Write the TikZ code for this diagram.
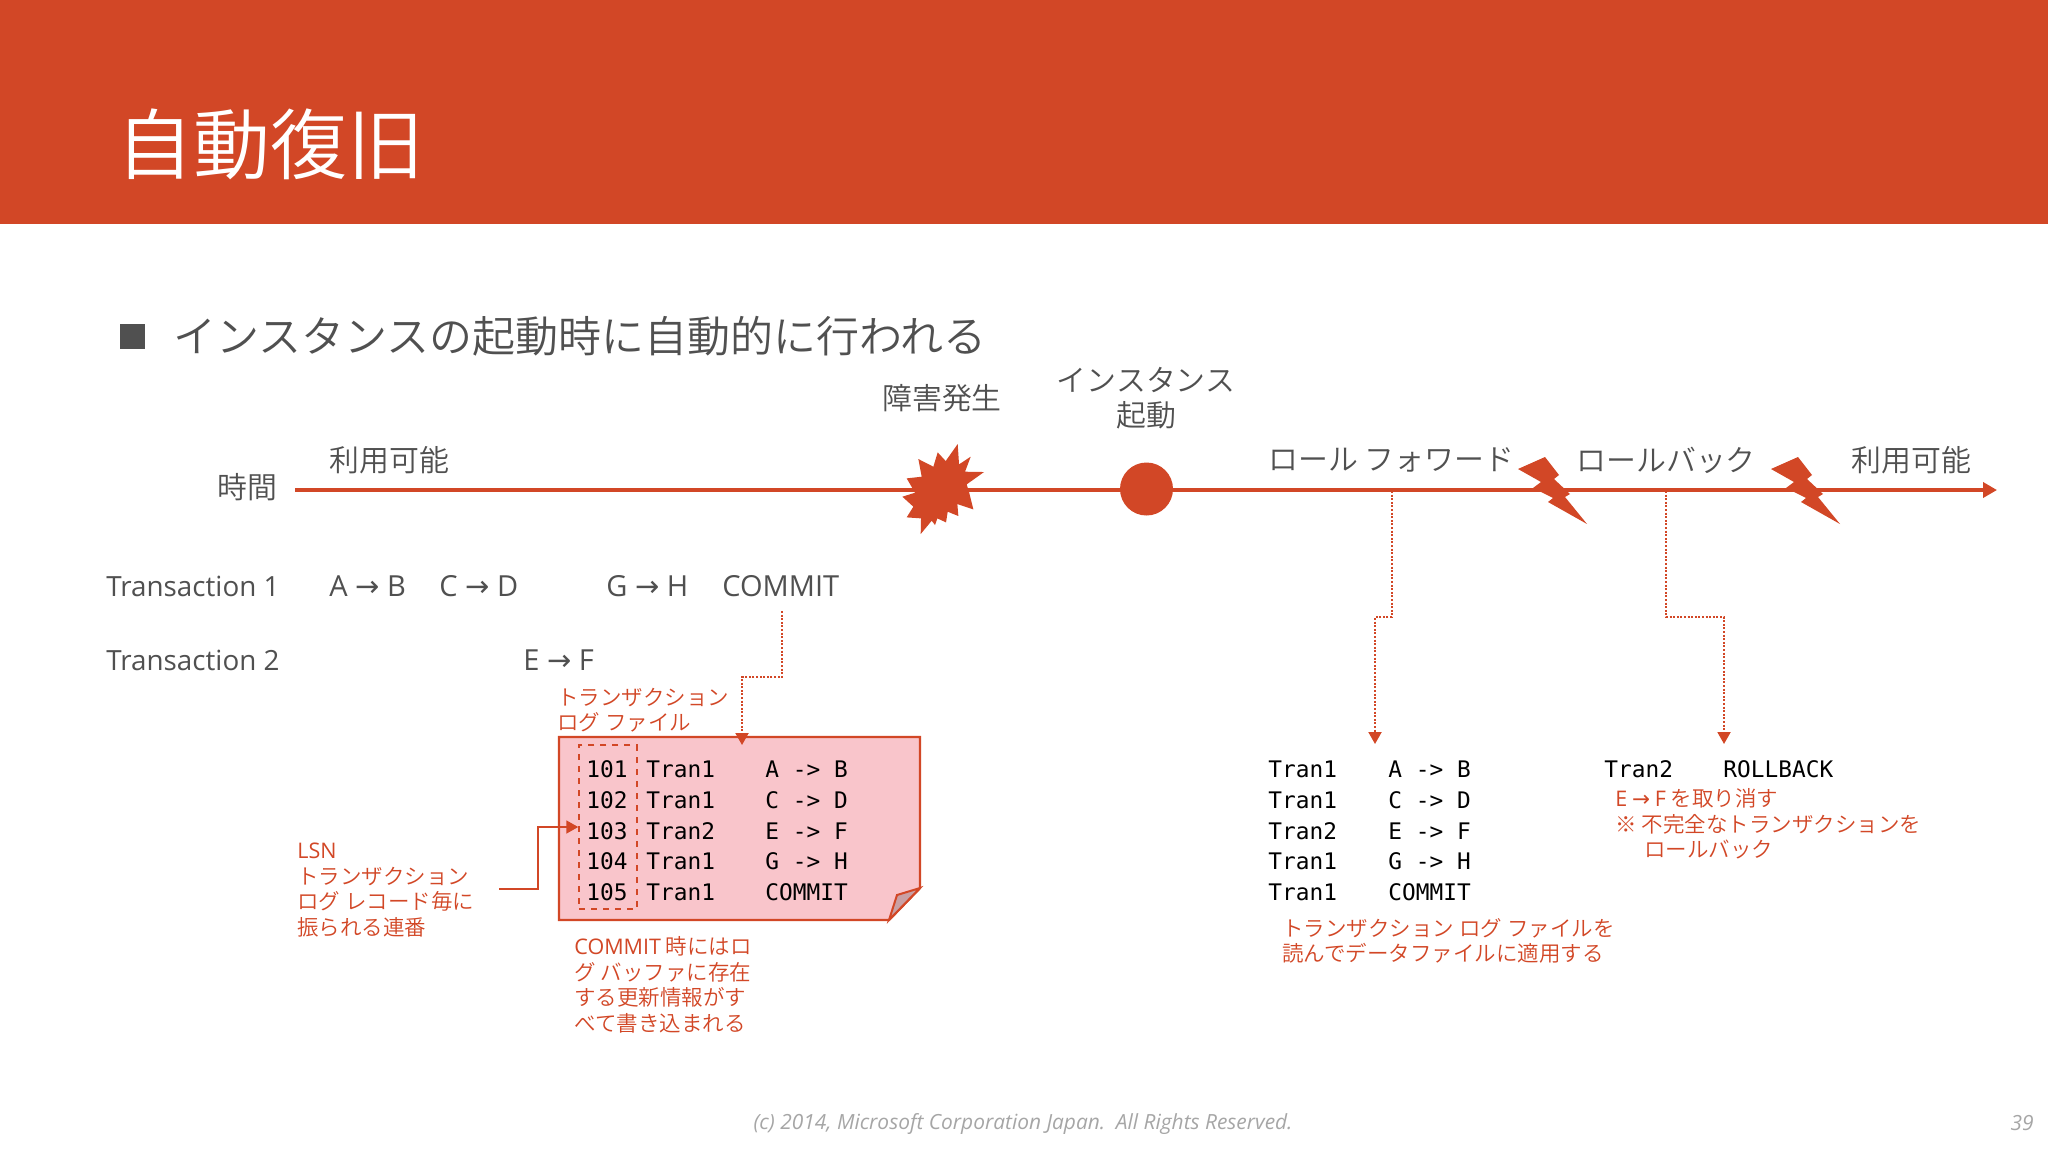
\documentclass[tikz,border=0pt]{standalone}
\usepackage{fontspec}
\usetikzlibrary{arrows.meta}
\setmainfont{Open Sans}
\newfontfamily\jp{Noto Sans CJK JP DemiLight}
\newfontfamily\os{Open Sans}
\newfontfamily\dv{DejaVu Sans}
\newfontfamily\mono{DejaVu Sans Mono}
\definecolor{accent}{HTML}{D24726}
\definecolor{ink}{HTML}{505050}
\definecolor{logfill}{HTML}{F9C5CB}
\definecolor{foldfill}{HTML}{C9A0A4}
\definecolor{foot}{HTML}{A6A6A6}
\newcommand{\arr}{{\dv →}}
\tikzset{
  lab/.style={inner sep=0pt,text=ink,font=\jp\fontsize{14.95}{17}\selectfont},
  latin/.style={inner sep=0pt,text=ink,anchor=west,font=\os\fontsize{14.5}{17}\selectfont},
  txn/.style={latin,font=\os\fontsize{13.9}{17}\selectfont},
  note/.style={inner sep=0pt,text=accent,anchor=west,align=left,font=\jp\fontsize{10.75}{12.8}\selectfont},
  code/.style={inner sep=0pt,text=black,anchor=west,font=\mono\fontsize{11.4}{13}\selectfont},
  dotline/.style={draw=accent,line width=1pt,dash pattern=on 1pt off 0.8pt,-{Triangle[length=6pt,width=6.5pt]}},
  solidline/.style={draw=accent,line width=0.9pt,-{Triangle[length=6pt,width=6.5pt]}},
  shapefill/.style={fill=accent,draw=none},
}
\begin{document}
\begin{tikzpicture}[x=0.5pt,y=-0.5pt]
\useasboundingbox (0,0) rectangle (2048,1152);
\fill[white] (0,0) rectangle (2048,1152);
\fill[accent] (0,0) rectangle (2048,224);
\node[inner sep=0pt,anchor=west,text=white,font=\jp\fontsize{38.5}{44}\selectfont] (title) at (116,144) {自動復旧};
\fill[ink] (120,324) rectangle (145,349);
\node[lab,anchor=west,font=\jp\fontsize{21.5}{25}\selectfont] (sub) at (173,336) {インスタンスの起動時に自動的に行われる};

% timeline
\coordinate (tstart) at (295,490);
\coordinate (tend) at (1997,490);
\draw[accent,line width=2.4pt,-{Triangle[length=7pt,width=7.5pt]}] (tstart) -- (tend);
\node[lab,anchor=east] (jikan) at (278,487) {時間};
\node[lab,anchor=west] (av1) at (329,460) {利用可能};
\node[lab] (fail) at (942,398) {障害発生};
\node[lab,align=center,font=\jp\fontsize{14.95}{17.8}\selectfont] (start) at (1146,398) {インスタンス\\起動};
\node[lab,anchor=west] (rf) at (1268,460) {ロール フォワード};
\node[lab,anchor=west] (rb) at (1576,460) {ロールバック};
\node[lab,anchor=west] (av2) at (1851,460) {利用可能};

% burst
\fill[shapefill,shift={(850,350)},x=0.1667pt,y=-0.1667pt]
 (205,327)--(250,350)--(263,307)--(287,333)--(323,282)--(327,343)--(362,320)--(345,365)--(402,366)--(350,403)--(358,430)--(370,478)--(322,462)--(325,498)--(293,485)--(288,517)--(262,505)--(255,525)--(245,512)--(212,552)--(213,505)--(170,502)--(190,470)--(157,440)--(195,428)--(170,385)--(215,380)--cycle;
\node[shapefill,circle,minimum size=26.5pt,inner sep=0pt] (dot) at (1146.5,489) {};
% bolts
\foreach \d in {0,253}{
\fill[shapefill,shift={(\d*0.5pt,0)}]
 (1518,469)--(1545,457)--(1559,475)--(1554,479)--(1570,494)--(1565,497)--(1587,524)--(1548,502)--(1553,498)--(1533,488)--(1541,482)--cycle;
}

% transactions
\node[txn] (t1) at (106,586) {Transaction 1};
\node[txn] (t2) at (106,660) {Transaction 2};
\node[latin] (ab) at (329,586) {A \arr{} B};
\node[latin] (cd) at (439,586) {C \arr{} D};
\node[latin] (gh) at (606,586) {G \arr{} H};
\node[latin] (cm) at (722,586) {COMMIT};
\node[latin] (ef) at (523,660) {E \arr{} F};

% log file
\filldraw[fill=logfill,draw=accent,line width=1.2pt] (559,737)--(920,737)--(920,888)--(889,920)--(559,920)--cycle;
\filldraw[fill=foldfill,draw=accent,line width=1pt] (889,920)--(897,895)--(920,888)--cycle;
\node[inner sep=0pt,draw=accent,dashed,line width=1pt,minimum width=28.75pt,minimum height=82pt] (lsnbox) at (608,827) {};
\coordinate (logtop) at (742,745);
\foreach \n/\yy/\t/\c in {101/769/Tran1/{A -> B},102/800/Tran1/{C -> D},103/831/Tran2/{E -> F},104/861/Tran1/{G -> H},105/892/Tran1/COMMIT}{
  \node[code] at (586,\yy) {\n};
  \node[code] at (646,\yy) {\t};
  \node[code] at (765,\yy) {\c};
  \node[code] at (1268,\yy) {\t};
  \node[code] at (1388,\yy) {\c};
}
\node[code] (rb1) at (1604,769) {Tran2};
\node[code] (rb2) at (1723,769) {ROLLBACK};

% notes
\node[note] (logt) at (557,710) {トランザクション\\ログ ファイル};
\node[note] (lsn) at (297,890) {{\os LSN}\\トランザクション\\ログ レコード毎に\\振られる連番};
\node[note] (cmn) at (574,985) {{\os COMMIT} 時にはロ\\グ バッファに存在\\する更新情報がす\\べて書き込まれる};
\node[note] (fwn) at (1282,941) {トランザクション ログ ファイルを\\読んでデータファイルに適用する};
\node[note] (rbn) at (1615,824) {{\os E} \arr{} {\os F} を取り消す\\※ 不完全なトランザクションを\\\hspace*{14.5pt}ロールバック};

% connectors
\coordinate (c1a) at (782,611);
\coordinate (c1b) at (782,677);
\coordinate (c1c) at (742,677);
\draw[dotline] (c1a)--(c1b)--(c1c)--(logtop);
\coordinate (lsnout) at (499,889);
\coordinate (lsnb) at (538,889);
\coordinate (lsnc) at (538,827);
\draw[solidline] (lsnout)--(lsnb)--(lsnc)--(lsnbox.west);
\coordinate (f0) at (1392,491);
\coordinate (f1) at (1392,617);
\coordinate (f2) at (1375,617);
\coordinate (f3) at (1375,744);
\draw[dotline] (f0)--(f1)--(f2)--(f3);
\coordinate (b0) at (1666,491);
\coordinate (b1) at (1666,617);
\coordinate (b2) at (1724,617);
\coordinate (b3) at (1724,744);
\draw[dotline] (b0)--(b1)--(b2)--(b3);

% footer
\node[inner sep=0pt,text=foot,font=\os\itshape\fontsize{10.45}{12}\selectfont] (foot) at (1023,1124) {(c) 2014, Microsoft Corporation Japan.\ \ All Rights Reserved.};
\node[inner sep=0pt,text=foot,font=\os\itshape\fontsize{10.45}{12}\selectfont,anchor=east] (page) at (2034,1123) {39};
\end{tikzpicture}
\end{document}
